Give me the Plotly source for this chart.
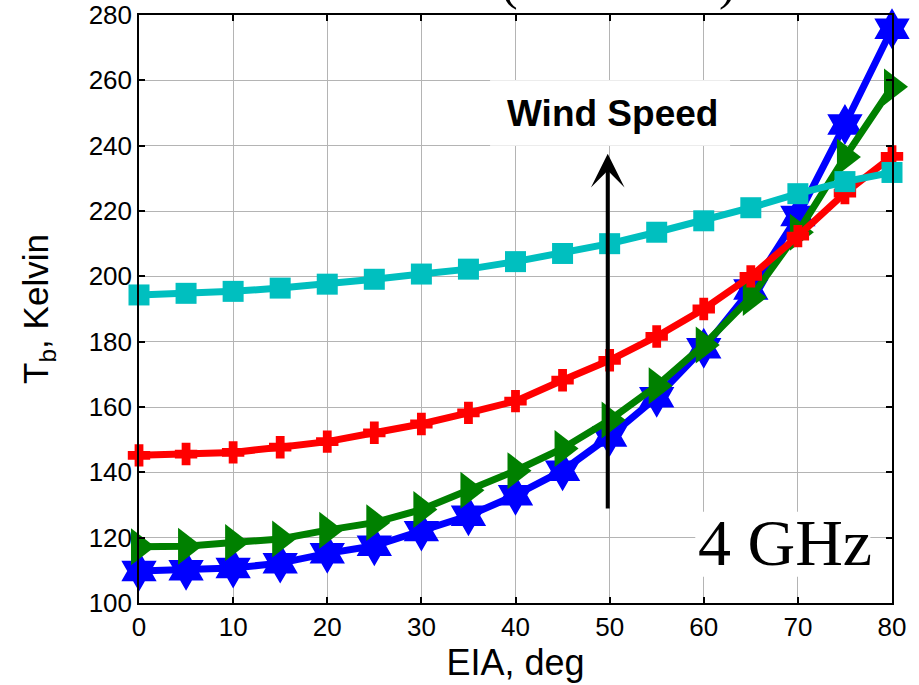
import plotly.graph_objects as go

# ---- data ----
eia = [0, 5, 10, 15, 20, 25, 30, 35, 40, 45, 50, 55, 60, 65, 70, 75, 80]
tb_blue = [109.8, 110, 110.7, 112.2, 115.2, 117.5, 122, 126.7, 133, 140.5, 151, 163, 178, 196, 218.5, 246.5, 275.8]
tb_green = [117.2, 117.4, 118.5, 119.6, 122.3, 124.6, 128.6, 134.5, 140.5, 147.3, 156, 166.5, 179, 193.5, 213.5, 236.5, 258]
tb_red = [145.2, 145.6, 146.1, 147.7, 149.4, 152.1, 154.8, 158.2, 161.8, 168.2, 174.3, 181.6, 190, 200, 212.3, 225.5, 236.7]
tb_cyan = [194.3, 194.8, 195.4, 196.4, 197.6, 199.1, 200.7, 202.2, 204.5, 207, 210, 213.5, 217, 221, 225.3, 229, 231.8]

x_ticks = [0, 10, 20, 30, 40, 50, 60, 70, 80]
y_ticks = [100, 120, 140, 160, 180, 200, 220, 240, 260, 280]

arrow_x = 49.8
arrow_from = 128.5
arrow_to = 237.5

series = [
    (tb_blue, "#0000FF", "hexagram", 31, 0),
    (tb_green, "#008000", "triangle-right", 32, 0),
    (tb_red, "#FF0000", "cross", 17, 2),
    (tb_cyan, "#00BFBF", "square", 21, 0),
]

fig = go.Figure()
for yv, col, sym, sz, lw in series:
    fig.add_trace(go.Scatter(
        x=eia, y=yv, mode="lines+markers",
        line=dict(color=col, width=7),
        marker=dict(symbol=sym, size=sz, color=col, line=dict(width=lw, color=col)),
        cliponaxis=False, showlegend=False,
    ))

axis_common = dict(
    showline=True, linecolor="black", linewidth=1.5, mirror="ticks",
    ticks="inside", ticklen=6, tickcolor="black", tickwidth=1.5,
    showgrid=True, gridcolor="#b4b4b4", gridwidth=1, zeroline=False,
    automargin=False,
    tickfont=dict(family="Arial, Liberation Sans", size=26, color="black"),
)

fig.update_layout(
    width=919, height=685,
    margin=dict(l=139, r=27, t=15, b=82, autoexpand=False),
    plot_bgcolor="white", paper_bgcolor="white",
    xaxis=dict(range=[0, 80], tickvals=x_ticks,
               title=dict(text="EIA, deg", font=dict(family="Arial, Liberation Sans", size=36, color="black"), standoff=4),
               **axis_common),
    yaxis=dict(range=[100, 280], tickvals=y_ticks,
               title=dict(text="T<sub>b</sub>, Kelvin", font=dict(family="Arial, Liberation Sans", size=35, color="black"), standoff=29),
               **axis_common),
)

# white boxes behind the labels (drawn between grid and traces)
fig.add_shape(type="rect", xref="x", yref="y", x0=37.3, x1=62.8, y0=240, y1=260,
              fillcolor="white", line=dict(width=0), layer="between")
fig.add_shape(type="rect", xref="x", yref="y", x0=59.1, x1=77.7, y0=108, y1=127.9,
              fillcolor="white", line=dict(width=0), layer="between")

fig.add_annotation(x=50.3, y=250, xref="x", yref="y", text="<b>Wind Speed</b>", showarrow=False,
                   font=dict(family="Arial, Liberation Sans", size=37, color="black"))
fig.add_annotation(x=68.6, y=118.6, xref="x", yref="y", text="4 GHz", showarrow=False,
                   font=dict(family="Times New Roman, Liberation Serif", size=66, color="black"))

# arrow
fig.add_annotation(x=arrow_x, y=arrow_to, ax=arrow_x, ay=arrow_from, xref="x", yref="y",
                   axref="x", ayref="y", text="", showarrow=True, arrowhead=3,
                   arrowsize=1.4, arrowwidth=4, arrowcolor="black")

# clipped title parentheses at the very top
fig.add_annotation(x=(509 - 139) / 753, y=1.005, xref="paper", yref="paper", text="(",
                   showarrow=False, yanchor="bottom",
                   font=dict(family="Times New Roman, Liberation Serif", size=50, color="black"))
fig.add_annotation(x=(738 - 139) / 753, y=1.005, xref="paper", yref="paper", text=")",
                   showarrow=False, yanchor="bottom",
                   font=dict(family="Times New Roman, Liberation Serif", size=50, color="black"))

fig.write_html("out.html", config={"displayModeBar": False},
               post_script="document.body.style.margin='0';")
